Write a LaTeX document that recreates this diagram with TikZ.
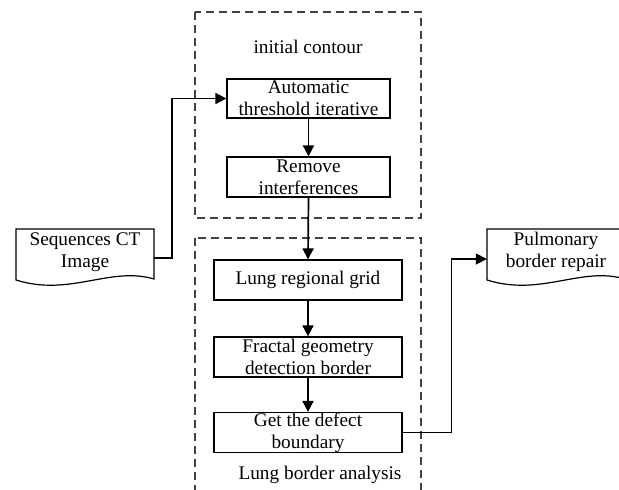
\documentclass[tikz,border=0pt]{standalone}
\usepackage{fontspec}
\setmainfont{Liberation Serif}
\usetikzlibrary{arrows.meta}
\begin{document}
\begin{tikzpicture}[x=1pt,y=-1pt,
  font=\fontsize{19.3}{21.7}\selectfont,
  procbox/.style={draw, line width=1.2pt, inner sep=0pt, align=center, minimum height=40pt},
  docbox/.style={inner sep=0pt, align=center, minimum width=138pt, minimum height=51pt},
  group/.style={draw=black!75, line width=1.1pt, dash pattern=on 8pt off 5pt},
  arr/.style={line width=1.7pt, -{Triangle[length=11pt,width=11pt]}},
  wire/.style={line width=1.7pt}]
\clip (0,0) rectangle (619,490);
\fill[white] (0,0) rectangle (619,490);
% groups
\draw[group] (195,12) rectangle (421,218);
\draw[group] (195,238) rectangle (421,505);
\node (t1) at (308,47) {initial contour};
\node (t2) at (320,475) {Lung border analysis};
% process boxes
\node[procbox, minimum width=163pt, minimum height=39pt] (b1) at (308.5,98.5) {Automatic\\threshold iterative};
\node[procbox, minimum width=163pt] (b2) at (308.5,177) {Remove\\interferences};
\node[procbox, minimum width=188pt] (b3) at (308,280) {Lung regional grid};
\node[procbox, minimum width=188pt] (b4) at (308,357) {Fractal geometry\\detection border};
\node[procbox, minimum width=188pt] (b5) at (308,432.5) {Get the defect\\boundary};
% documents
\node[docbox] (seq) at (85,252) {Sequences CT\\Image};
\draw[line width=1.2pt] (16,229) -- (154,229) -- (154,279)
  .. controls (110,266) and (70,297) .. (16,280) -- cycle;
\node[docbox] (pul) at (556,252) {Pulmonary\\border repair};
\draw[line width=1.2pt] (487,229) -- (625,229) -- (625,279)
  .. controls (581,266) and (541,297) .. (487,280) -- cycle;
% connectors
\draw[arr] ([yshift=-6pt]seq.east) -- ++(18,0) |- (b1.west);
\draw[arr] (b1.south) -- (b2.north);
\draw[arr] (b2.south) -- (b3.north);
\draw[arr] (b3.south) -- (b4.north);
\draw[arr] (b4.south) -- (b5.north);
\draw[arr] (b5.east) -- ++(49,0) |- ([yshift=-7pt]pul.west);
\end{tikzpicture}
\end{document}
